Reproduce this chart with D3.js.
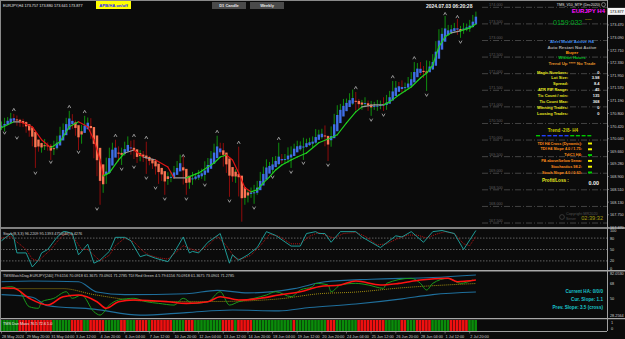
<!DOCTYPE html>
<html>
<head>
<meta charset="utf-8">
<script src="https://cdn.jsdelivr.net/npm/d3@7"></script>
<style>
  body { margin: 0; background: #0b0b0b; }
  svg { display: block; font-family: "Liberation Sans", "DejaVu Sans", sans-serif; }
</style>
</head>
<body>
<div id="chart"></div>
<script>
var svgWidth = 625;
var svgHeight = 339;

// ---- data (EURJPY H4) ----
var firstOpen = 170.40;
var closes = [
  170.46,170.55,170.61,170.67,170.64,170.58,170.52,170.49,170.37,170.22,
  170.01,169.86,169.77,169.80,169.83,169.80,169.65,169.83,170.01,170.22,
  170.40,170.55,170.70,170.49,170.25,170.01,170.31,170.49,170.58,170.16,
  169.65,169.16,168.56,168.80,169.25,169.65,169.77,169.71,169.55,169.65,
  169.77,169.86,169.71,169.55,169.46,169.55,169.46,169.40,169.34,169.28,
  169.16,169.04,168.89,168.80,168.83,168.95,169.10,169.22,169.31,168.86,
  168.65,168.80,168.89,168.92,168.98,169.04,169.16,169.34,169.52,169.71,
  169.80,169.71,169.40,169.16,168.95,168.86,168.92,168.50,168.20,168.32,
  168.38,168.47,168.50,168.65,168.86,169.10,169.22,169.22,169.34,169.40,
  169.43,169.40,169.46,169.58,169.71,169.77,169.83,169.86,169.89,169.92,
  169.92,170.01,170.13,170.19,170.19,170.01,169.95,170.31,170.61,170.85,
  170.97,171.09,171.15,171.21,171.27,171.09,171.06,171.09,171.09,171.00,
  171.03,171.03,171.03,171.09,171.03,171.21,171.36,171.51,171.63,171.60,
  171.57,171.63,171.75,171.93,172.11,172.17,172.11,171.99,172.20,172.23,
  172.47,172.83,173.14,173.26,173.29,173.32,173.35,173.35,173.29,173.32,
  173.38,173.41,173.50,173.62,173.86
];
var hiWick = [
  0.10,0.12,0.08,0.15,0.12,0.10,0.06,0.12,0.08,0.10,
  0.15,0.10,0.08,0.12,0.20,0.10,0.08,0.15,0.12,0.18,
  0.10,0.12,0.18,0.08,0.10,0.12,0.15,0.24,0.10,0.08,
  0.12,0.20,0.15,0.10,0.22,0.12,0.15,0.24,0.10,0.12,
  0.18,0.25,0.12,0.30,0.10,0.15,0.12,0.49,0.12,0.10,
  0.15,0.10,0.12,0.08,0.20,0.10,0.12,0.15,0.25,0.20,
  0.12,0.10,0.15,0.08,0.12,0.10,0.20,0.12,0.15,0.18,
  0.33,0.12,0.20,0.10,0.15,0.12,0.20,0.88,0.25,0.15,
  0.12,0.10,0.15,0.12,0.18,0.10,0.20,0.12,0.15,0.12,
  0.49,0.15,0.12,0.20,0.10,0.12,0.15,0.10,0.18,0.12,
  0.15,0.10,0.20,0.12,0.15,0.25,0.12,0.10,0.18,0.20,
  0.12,0.15,0.10,0.20,0.25,0.18,0.15,0.12,0.20,0.10,
  0.15,0.12,0.18,0.10,0.20,0.15,0.12,0.27,0.15,0.12,
  0.20,0.10,0.15,0.12,0.24,0.15,0.18,0.12,0.20,0.15,
  0.12,0.15,0.20,0.12,0.45,0.15,0.12,0.18,0.30,0.12,
  0.15,0.10,0.12,0.15,0.01
];
var loWick = [
  0.10,0.20,0.08,0.12,0.10,0.15,0.12,0.10,0.15,0.12,
  0.20,0.70,0.12,0.15,0.10,0.12,0.25,0.10,0.12,0.08,
  0.12,0.10,0.08,0.15,0.12,0.31,0.12,0.10,0.15,0.12,
  0.20,0.25,0.51,0.15,0.12,0.10,0.15,0.12,0.20,0.30,
  0.12,0.10,0.15,0.12,0.15,0.10,0.12,0.42,0.10,0.15,
  0.20,0.36,0.12,0.45,0.15,0.10,0.12,0.15,0.10,0.20,
  0.30,0.12,0.15,0.10,0.12,0.15,0.27,0.12,0.10,0.15,
  0.12,0.15,0.20,0.15,0.66,0.12,0.15,0.20,0.66,0.15,
  0.20,0.12,0.39,0.15,0.12,0.10,0.15,0.12,0.21,0.12,
  0.15,0.10,0.12,0.15,0.42,0.12,0.10,0.15,0.46,0.12,
  0.10,0.15,0.12,0.10,0.15,0.20,0.58,0.15,0.12,0.10,
  0.12,0.15,0.10,0.12,0.15,0.20,0.12,0.15,0.10,0.12,
  0.27,0.12,0.15,0.10,0.15,0.12,0.10,0.15,0.12,0.10,
  0.15,0.12,0.10,0.15,0.12,0.10,0.15,0.12,0.51,0.15,
  0.12,0.10,0.15,0.12,0.10,0.15,0.12,0.10,0.12,0.21,
  0.12,0.10,0.15,0.12,0.10
];

// moving average line [bar, price]
var maLine = [
  [0,170.37],[4,170.55],[6,170.55],[10,170.40],[13,170.01],[16,169.77],[19,169.95],[22,170.40],
  [25,170.55],[28,170.40],[30,170.01],[32,169.40],[33,168.92],[35,169.01],[38,169.40],[40,169.61],
  [43,169.70],[46,169.49],[50,169.40],[54,169.19],[56,168.86],[60,168.86],[64,169.01],[69,169.31],
  [71,169.49],[73,169.55],[75,169.40],[77,169.01],[79,168.56],[81,168.44],[83,168.50],[85,168.71],
  [87,168.89],[89,169.10],[91,169.25],[94,169.40],[96,169.49],[99,169.61],[103,169.92],[107,170.07],
  [109,170.16],[112,170.52],[115,170.85],[117,171.00],[121,171.06],[124,171.06],[126,171.15],[129,171.36],
  [133,171.60],[136,171.87],[138,172.02],[140,172.26],[142,172.81],[144,173.11],[146,173.23],[149,173.29],
  [152,173.38],[154,173.50]
];

// fractal markers [bar, price]
var upMarks = [[4,170.91],[22,171.00],[27,170.85],[37,170.13],[43,170.13],[47,170.07],[59,169.52],
  [70,170.25],[77,169.92],[90,170.04],[115,171.57],[127,171.90],[134,172.47],[144,173.80],[148,173.71]];
var downMarks = [[1,170.22],[5,170.07],[11,169.01],[16,169.34],[25,169.64],[31,167.93],[39,169.13],
  [43,169.19],[47,168.86],[50,168.56],[53,168.23],[60,168.23],[66,168.65],[74,168.17],[82,167.96],
  [88,168.89],[94,169.04],[98,169.31],[106,169.25],[120,170.61],[124,170.76],[138,171.36],[149,172.96]];

// price axis labels
var priceTicks = [173.470,173.090,172.710,172.330,171.950,171.570,171.190,170.800,170.420,
  170.040,169.660,169.280,168.900,168.510,168.130,167.750,167.370];
var levelLines = [174.0,173.5,173.0,172.5,172.0,171.5,171.0,170.5,170.0,169.5,169.0,168.5,168.0,167.5];

// stochastic [bar, value]
var stochMain = [[0,73],[3,92],[4,82],[5,41],[8,41],[10,4],[12,22],[13,41],[15,50],[18,82],[20,97],
  [21,97],[23,92],[25,36],[26,45],[28,64],[30,14],[32,22],[35,45],[37,82],[40,82],[42,73],[45,31],
  [47,36],[50,27],[54,18],[56,41],[59,83],[61,41],[62,45],[64,41],[67,69],[71,92],[74,14],[75,36],
  [77,22],[80,36],[83,55],[86,97],[89,87],[94,59],[97,59],[99,92],[102,97],[103,92],[105,92],[107,69],
  [110,97],[115,97],[117,83],[123,55],[128,86],[130,83],[133,97],[137,69],[140,97],[143,100],[147,92],
  [150,50],[154,100]];
var stochSignal = [[0,80],[3,85],[5,70],[8,50],[10,25],[12,20],[14,35],[16,50],[18,70],[20,88],[22,95],
  [24,75],[26,50],[28,50],[30,35],[32,20],[35,35],[37,60],[40,80],[43,70],[46,45],[48,35],[51,28],
  [54,25],[57,45],[59,60],[62,50],[64,45],[67,60],[70,85],[73,60],[76,25],[78,25],[81,35],[84,60],
  [87,90],[90,85],[94,65],[97,65],[100,85],[103,95],[106,85],[108,80],[111,92],[115,95],[118,85],
  [122,62],[125,65],[129,80],[132,88],[135,88],[138,80],[141,90],[144,97],[147,92],[150,65],[152,60],[154,85]];
var stochLevels = [80, 50, 20];
var stochTicks = [100, 80, 50, 20, 0];

// TMS / TDI panel [bar, value]
var tdiUpper = [[0,70],[10,71],[25,70],[31,58],[40,55],[60,56],[70,60],[80,57],[95,62],[105,70],[120,73],[140,75],[154,78]];
var tdiLower = [[0,55],[10,52],[15,42],[30,38],[45,31],[60,34],[75,37],[90,36],[100,40],[115,44],[130,50],[140,55],[154,58]];
var tdiMid = [[0,62],[20,62],[30,55],[50,47],[70,47],[90,50],[103,56],[115,58],[130,63],[154,68]];
var tdiGreen = [[0,62.7],[3,64.3],[6,58.4],[9,40.9],[12,39.0],[13,46.7],[17,50.7],[21,58.4],[23,50.7],
  [26,54.6],[30,35.0],[32,31.1],[35,42.8],[38,48.7],[43,50.7],[47,46.7],[51,44.8],[56,42.8],[59,50.7],
  [62,44.8],[67,46.7],[71,58.4],[74,42.8],[77,46.7],[82,50.7],[86,54.6],[89,58.4],[94,52.6],[97,60.4],
  [101,64.3],[102,68.2],[106,66.3],[107,58.4],[110,66.3],[115,68.2],[119,66.3],[124,62.4],[125,68.2],
  [133,74.1],[136,68.2],[138,60.4],[140,68.2],[145,74.1],[149,68.2],[153,72.1]];
var tdiRed = [[0,62.7],[4,62.4],[9,50.7],[15,42.8],[20,52.6],[25,54.6],[31,46.7],[34,39.0],[38,46.7],
  [43,48.7],[54,46.7],[60,44.8],[67,46.7],[71,52.6],[77,48.7],[84,50.7],[90,54.6],[97,58.4],[103,64.3],
  [110,66.3],[115,70.9],[123,66.3],[129,68.2],[136,72.1],[145,74.1],[148,70.1],[151,70.9],[154,72.1]];
var tdiTicks = ["82.0530", "68", "50", "28.2564"];

// HA histogram: run lengths, alternating green / red, starting green
var haRuns = [6,11,6,4,2,5,5,2,3,4,1,7,4,3,9,4,1,5,13,1,10,3,7,9,5,2,3,5,6,6,3];

// time axis labels every 8 bars
var timeLabels = ["28 May 2024","29 May 20:00","31 May 04:00","3 Jun 12:00","4 Jun 20:00","6 Jun 04:00",
  "7 Jun 12:00","10 Jun 20:00","12 Jun 04:00","13 Jun 12:00","14 Jun 20:00","18 Jun 04:00","19 Jun 12:00",
  "20 Jun 20:00","24 Jun 04:00","25 Jun 12:00","26 Jun 20:00","28 Jun 04:00","1 Jul 12:00","2 Jul 20:00"];

// info panel text
var infoRows = [["Magic Numbers:","0"],["Lot Size:","3.98"],["Spread:","8.4"],["ATR PIP Range:","45"],
  ["Tic Count / min:","135"],["Tic Count Max:","368"],["Winning Trades:","0"],["Loosing Trades:","0"]];
var trendRows = [["TDI H4 Cross (Dynamic):","#f0f000"],["TDI H4 Slope 4.0 / 1.75:","#f0f000"],["TdiC1 H4:","#00d000"],
  ["PA above/below 5ema:","#f0f000"],["Stochastics 98.2:","#f0f000"],["Stoch Slope 4.0 / 0.63:","#00d000"]];
var trendDashes = ["#00c800","#2040ff","#2040ff","#2040ff","#2040ff","#2040ff","#00c800","#00c800","#00c800","#00c800"];

// ---- layout ----
var plotRight = 607;
var nBars = closes.length;

var svg = d3.select("#chart").append("svg")
  .attr("width", svgWidth)
  .attr("height", svgHeight);

svg.append("rect").attr("width", svgWidth).attr("height", svgHeight).attr("fill", "#0b0b0b");

var x = d3.scaleLinear().domain([0, nBars - 1]).range([1.5, 475.9]);
var y = d3.scaleLinear().domain([167.35, 174.22]).range([228, 0]);
var yStoch = d3.scaleLinear().domain([0, 100]).range([268.5, 230.5]);
var yTdi = d3.scaleLinear().domain([28.26, 82.05]).range([317.5, 271.5]);

// level lines on the right side
var lv = svg.append("g");
levelLines.forEach(function(p) {
  lv.append("line").attr("x1", 482).attr("x2", plotRight).attr("y1", y(p)).attr("y2", y(p))
    .attr("stroke", "#6a6a6a").attr("stroke-width", 0.6).attr("stroke-dasharray", "6,2,1,2");
  lv.append("text").attr("x", 489).attr("y", y(p) - 1).attr("font-size", 3.8).attr("fill", "#5e5e5e")
    .text(p.toFixed(3));
});

// candles: real wicks, Heiken Ashi bodies on top
var opens = closes.map(function(c, i) { return i === 0 ? firstOpen : closes[i - 1]; });
var highs = closes.map(function(c, i) { return Math.max(opens[i], c) + hiWick[i]; });
var lows = closes.map(function(c, i) { return Math.min(opens[i], c) - loWick[i]; });
var haOpen = [], haClose = [];
closes.forEach(function(c, i) {
  haClose[i] = (opens[i] + highs[i] + lows[i] + c) / 4;
  haOpen[i] = i === 0 ? (opens[0] + c) / 2 : (haOpen[i - 1] + haClose[i - 1]) / 2;
});

var candles = svg.append("g");
closes.forEach(function(c, i) {
  var up = c >= opens[i];
  candles.append("line")
    .attr("x1", x(i)).attr("x2", x(i)).attr("y1", y(highs[i])).attr("y2", y(lows[i]))
    .attr("stroke", up ? "#0f8f0f" : "#8e0c0c").attr("stroke-width", 1);
});
closes.forEach(function(c, i) {
  var hUp = haClose[i] >= haOpen[i];
  var top = y(Math.max(haOpen[i], haClose[i]));
  var h = Math.max(1, y(Math.min(haOpen[i], haClose[i])) - top);
  candles.append("rect")
    .attr("x", x(i) - 1.2).attr("y", top).attr("width", 2.4).attr("height", h)
    .attr("fill", hUp ? "#3f6fe6" : "#fa7452");
});

// MA line coloured by slope
var maG = svg.append("g");
for (var k = 1; k < maLine.length; k++) {
  var a = maLine[k - 1], b = maLine[k];
  var slope = (b[1] - a[1]) / (b[0] - a[0]);
  var col = slope > 0.03 ? "#20d020" : (slope < -0.03 ? "#e01414" : "#9a9a9a");
  maG.append("line")
    .attr("x1", x(a[0])).attr("y1", y(a[1])).attr("x2", x(b[0])).attr("y2", y(b[1]))
    .attr("stroke", col).attr("stroke-width", 1.2).attr("stroke-linecap", "round");
}

// fractal markers
var mk = svg.append("g");
upMarks.forEach(function(d) {
  var cx = x(d[0]), cy = y(d[1]);
  mk.append("path").attr("d", "M" + (cx - 1.5) + "," + (cy + 1.2) + "L" + cx + "," + (cy - 1.5) + "L" + (cx + 1.5) + "," + (cy + 1.2))
    .attr("fill", "none").attr("stroke", "#c8c8c8").attr("stroke-width", 0.7);
});
downMarks.forEach(function(d) {
  var cx = x(d[0]), cy = y(d[1]);
  mk.append("path").attr("d", "M" + (cx - 1.5) + "," + (cy - 1.2) + "L" + cx + "," + (cy + 1.5) + "L" + (cx + 1.5) + "," + (cy - 1.2))
    .attr("fill", "none").attr("stroke", "#c8c8c8").attr("stroke-width", 0.7);
});

// ---- stochastic panel ----
var st = svg.append("g");
stochLevels.forEach(function(v) {
  st.append("line").attr("x1", 0).attr("x2", plotRight).attr("y1", yStoch(v)).attr("y2", yStoch(v))
    .attr("stroke", "#9a9a9a").attr("stroke-width", 0.6).attr("stroke-dasharray", "1.5,1.5");
});
var stLine = d3.line().x(function(d) { return x(d[0]); }).y(function(d) { return yStoch(d[1]); });
st.append("path").datum(stochSignal).attr("d", stLine).attr("fill", "none")
  .attr("stroke", "#c81414").attr("stroke-width", 0.9).attr("stroke-dasharray", "1,1");
st.append("path").datum(stochMain).attr("d", stLine).attr("fill", "none")
  .attr("stroke", "#1fa8a4").attr("stroke-width", 0.9);
st.append("text").attr("x", 3).attr("y", 234.5).attr("font-size", 3.8).attr("fill", "#cfcfcf")
  .text("Stoch(8,3,3) 96.2209 95.1393  4750(40) 0.4276");

// ---- TDI panel ----
var td = svg.append("g");
var tdLine = d3.line().x(function(d) { return x(d[0]); }).y(function(d) { return yTdi(d[1]); }).curve(d3.curveMonotoneX);
td.append("path").datum(tdiUpper).attr("d", tdLine).attr("fill", "none").attr("stroke", "#1f6f9c").attr("stroke-width", 1.1);
td.append("path").datum(tdiLower).attr("d", tdLine).attr("fill", "none").attr("stroke", "#1f6f9c").attr("stroke-width", 1.1);
td.append("path").datum(tdiMid).attr("d", tdLine).attr("fill", "none").attr("stroke", "#b09a10").attr("stroke-width", 0.9).attr("stroke-dasharray", "1,1");
td.append("path").datum(tdiGreen).attr("d", tdLine).attr("fill", "none").attr("stroke", "#1a9a1a").attr("stroke-width", 1);
td.append("path").datum(tdiRed).attr("d", tdLine).attr("fill", "none").attr("stroke", "#ff1212").attr("stroke-width", 1.6);
td.append("text").attr("x", 3).attr("y", 276.5).attr("font-size", 3.8).attr("fill", "#cfcfcf")
  .text("TMSWatchDog-EURJPY[240] 79.6156 70.0918 61.3675 73.0901 71.2785   TDI Red Green 4.5 79.6156 70.0918 61.3675 73.0901 71.2785");
var haStatus = ["Current HA: 0/0/0", "Cur. Slope: 1.1", "Prev. Slope: 3.5 (cross)"];
haStatus.forEach(function(t, i) {
  td.append("text").attr("x", 603).attr("y", 293 + i * 8).attr("text-anchor", "end")
    .attr("font-size", 4.6).attr("font-weight", "bold").attr("fill", "#19c4cc").text(t);
});

// ---- HA histogram ----
var hb = svg.append("g");
var bi = 0;
haRuns.forEach(function(n, r) {
  for (var j = 0; j < n; j++) {
    hb.append("rect").attr("x", x(bi) - 1.54).attr("y", 320).attr("width", 2.6).attr("height", 11)
      .attr("fill", r % 2 === 0 ? "#0a8c0a" : "#f01010");
    bi++;
  }
});
hb.append("text").attr("x", 3).attr("y", 324.5).attr("font-size", 3.8).attr("fill", "#e8e8e8")
  .text("TMS Dan Mass 76.5 72.6 1.0");

// ---- frames and separators ----
var fr = svg.append("g");
[228, 270.8, 318.6].forEach(function(yy) {
  fr.append("line").attr("x1", 0).attr("x2", svgWidth).attr("y1", yy).attr("y2", yy)
    .attr("stroke", "#a8a8a8").attr("stroke-width", 1.4);
});
fr.append("line").attr("x1", 0).attr("x2", plotRight).attr("y1", 0.5).attr("y2", 0.5).attr("stroke", "#8a8a8a").attr("stroke-width", 1);
fr.append("line").attr("x1", 0.5).attr("x2", 0.5).attr("y1", 0).attr("y2", 331).attr("stroke", "#8a8a8a").attr("stroke-width", 1);
fr.append("line").attr("x1", plotRight + 0.5).attr("x2", plotRight + 0.5).attr("y1", 0).attr("y2", 331).attr("stroke", "#a0a0a0").attr("stroke-width", 1);
fr.append("line").attr("x1", 0).attr("x2", plotRight).attr("y1", 331.5).attr("y2", 331.5).attr("stroke", "#a0a0a0").attr("stroke-width", 1);

// ---- price axis ----
var ax = svg.append("g").attr("font-size", 3.8).attr("fill", "#cfcfcf");
priceTicks.forEach(function(p) {
  ax.append("line").attr("x1", plotRight).attr("x2", plotRight + 2).attr("y1", y(p)).attr("y2", y(p)).attr("stroke", "#a0a0a0").attr("stroke-width", 0.6);
  ax.append("text").attr("x", 610).attr("y", y(p) + 1.4).text(p.toFixed(3));
});
ax.append("rect").attr("x", 608).attr("y", y(173.877) - 3.5).attr("width", 17).attr("height", 7).attr("fill", "#f4f4f4");
ax.append("text").attr("x", 610).attr("y", y(173.877) + 1.4).attr("fill", "#000").text("173.877");
stochTicks.forEach(function(v) {
  ax.append("text").attr("x", 610).attr("y", yStoch(v) + 1.4).text(v);
});
var tdiTickVals = [79.4, 68, 50, 30.5];
tdiTicks.forEach(function(t, i) {
  ax.append("text").attr("x", 610).attr("y", yTdi(tdiTickVals[i]) + 1.4).text(t);
});
ax.append("text").attr("x", 611).attr("y", 324).text("1");
ax.append("text").attr("x", 611).attr("y", 330).text("0");

// ---- time axis ----
var tx = svg.append("g").attr("font-size", 3.8).attr("fill", "#cfcfcf");
timeLabels.forEach(function(t, i) {
  var xi = x(i * 8);
  tx.append("line").attr("x1", xi).attr("x2", xi).attr("y1", 331.5).attr("y2", 333.5).attr("stroke", "#a0a0a0").attr("stroke-width", 0.6);
  tx.append("text").attr("x", xi + 0.5).attr("y", 337.5).text(t);
});

// ---- header ----
var hd = svg.append("g");
hd.append("text").attr("x", 3).attr("y", 6.5).attr("font-size", 3.8).attr("fill", "#e0e0e0")
  .text("EURJPY,H4  173.757 173.880 173.641 173.877");
hd.append("rect").attr("x", 96).attr("y", 1).attr("width", 35).attr("height", 8).attr("fill", "#ffff00");
hd.append("text").attr("x", 113.5).attr("y", 6.6).attr("text-anchor", "middle").attr("font-size", 4.2)
  .attr("font-weight", "bold").attr("fill", "#1a1aff").text("APB/HA on/off");
[["D1 Candle", 212], ["Weekly", 250]].forEach(function(b) {
  hd.append("rect").attr("x", b[1]).attr("y", 2).attr("width", 34).attr("height", 7).attr("fill", "#4a4a4a");
  hd.append("text").attr("x", b[1] + 17).attr("y", 7).attr("text-anchor", "middle").attr("font-size", 4)
    .attr("font-weight", "bold").attr("fill", "#e8e8e8").text(b[0]);
});
hd.append("text").attr("x", 426).attr("y", 8).attr("font-size", 5).attr("font-weight", "bold")
  .attr("fill", "#f0f0f0").text("2024.07.03 06:20:28");

// ---- info panel ----
var ip = svg.append("g").attr("font-weight", "bold");
ip.append("text").attr("x", 600).attr("y", 6).attr("text-anchor", "end").attr("font-size", 3.6)
  .attr("font-weight", "normal").attr("fill", "#e0e0e0").text("TMS_V10_MTF (Dec2020)");
ip.append("circle").attr("cx", 603.5).attr("cy", 4.6).attr("r", 2).attr("fill", "none").attr("stroke", "#d0d0d0").attr("stroke-width", 0.5);
ip.append("text").attr("x", 605).attr("y", 13).attr("text-anchor", "end").attr("font-size", 6)
  .attr("fill", "#ff10ff").text("EURJPY H4");
ip.append("text").attr("x", 553).attr("y", 25).attr("font-size", 7).attr("font-weight", "normal")
  .attr("fill", "#00a820").text("0159:032");
ip.append("text").attr("x", 585).attr("y", 20).attr("font-size", 4).attr("fill", "#d8c000").text("-----");
var hdr = [["Alert Mode Active H4", "#3e8cf0", 42.5], ["Auto Restart Not Active", "#a8a8a8", 48.5],
  ["Buyer", "#ff9a10", 54], ["Within Hours", "#00c020", 59], ["Trend Up **** No Trade", "#e0902a", 64.5]];
hdr.forEach(function(h) {
  ip.append("text").attr("x", 572).attr("y", h[2]).attr("text-anchor", "middle").attr("font-size", 4.4)
    .attr("fill", h[1]).text(h[0]);
});
infoRows.forEach(function(r, i) {
  ip.append("text").attr("x", 568).attr("y", 73.5 + i * 5.9).attr("text-anchor", "end").attr("font-size", 4)
    .attr("fill", "#e8e820").text(r[0]);
  ip.append("text").attr("x", 599.5).attr("y", 73.5 + i * 5.9).attr("text-anchor", "end").attr("font-size", 4)
    .attr("fill", "#f0f0f0").text(r[1]);
});
ip.append("text").attr("x", 563).attr("y", 132).attr("text-anchor", "middle").attr("font-size", 4.6)
  .attr("fill", "#c8c800").text("Trend -2/8- H4");
trendDashes.forEach(function(c, i) {
  ip.append("rect").attr("x", 536 + i * 5.7).attr("y", 135).attr("width", 4).attr("height", 1.4).attr("fill", c);
});
trendRows.forEach(function(r, i) {
  ip.append("text").attr("x", 582).attr("y", 144.5 + i * 5.8).attr("text-anchor", "end").attr("font-size", 3.8)
    .attr("fill", "#ff8c1a").text(r[0]);
  ip.append("rect").attr("x", 588).attr("y", 142.5 + i * 5.8).attr("width", 4).attr("height", 2).attr("fill", r[1]);
});
ip.append("text").attr("x", 542).attr("y", 181.5).attr("font-size", 4.6).attr("fill", "#e8e820").text("Profit/Loss :");
ip.append("text").attr("x", 599).attr("y", 184.5).attr("text-anchor", "end").attr("font-size", 5.4)
  .attr("fill", "#f0f0f0").text("0.00");
ip.append("text").attr("x", 566).attr("y", 214.5).attr("font-size", 3.8).attr("font-weight", "normal")
  .attr("fill", "#505050").text("Copyright MR2020");
ip.append("circle").attr("cx", 562).attr("cy", 217).attr("r", 2.4).attr("fill", "none").attr("stroke", "#505050").attr("stroke-width", 0.6);
ip.append("text").attr("x", 566).attr("y", 219.5).attr("font-size", 3.4).attr("font-weight", "normal")
  .attr("fill", "#505050").text("Server");
ip.append("text").attr("x", 603).attr("y", 220).attr("text-anchor", "end").attr("font-size", 5.6).attr("font-weight", "normal")
  .attr("fill", "#a49c10").text("02:39:32");
</script>
</body>
</html>
